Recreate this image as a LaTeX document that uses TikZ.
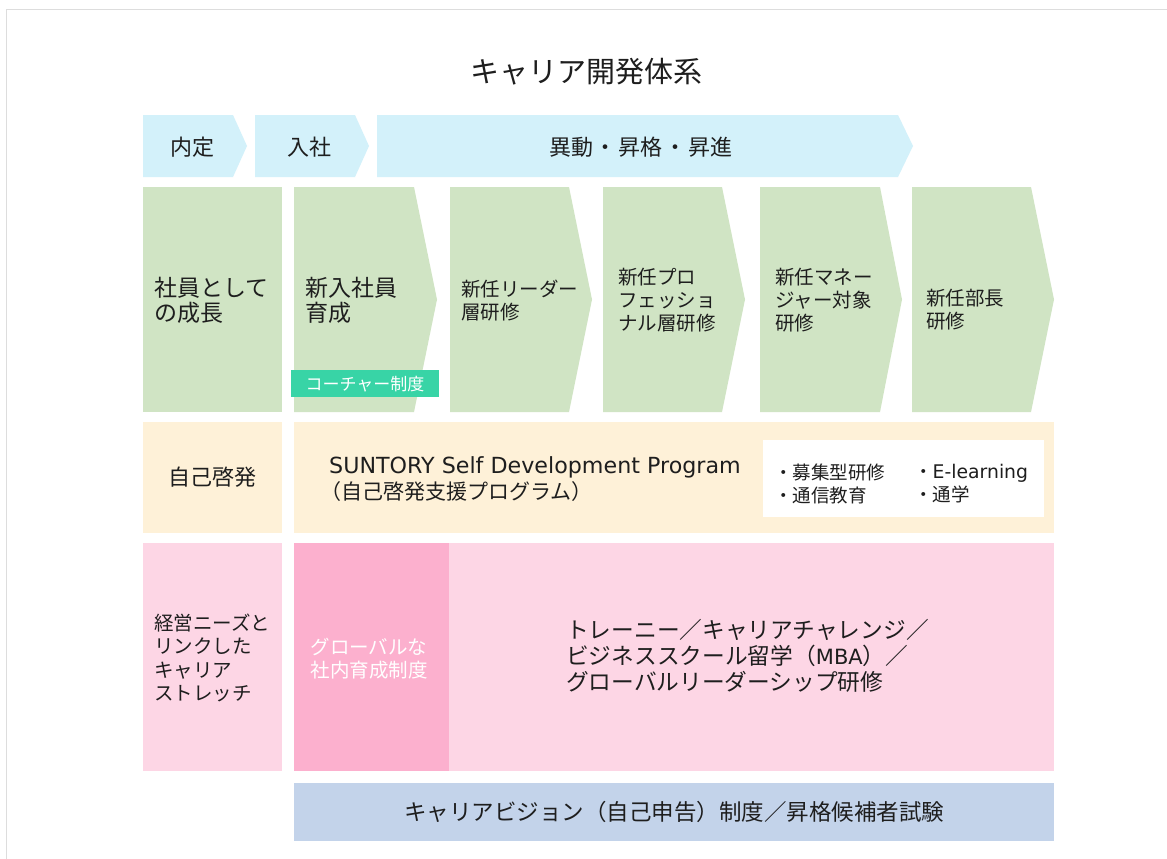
\documentclass[tikz,border=0pt]{standalone}
\usepackage{fontspec}
\setmainfont{Noto Sans CJK JP}
\newfontfamily\latinf{DejaVu Sans}
\definecolor{framegray}{HTML}{DDDDDD}
\definecolor{topblue}{HTML}{D3F1FA}
\definecolor{stepgreen}{HTML}{D0E4C4}
\definecolor{cream}{HTML}{FEF1D8}
\definecolor{pinklight}{HTML}{FDD6E5}
\definecolor{pinkdark}{HTML}{FCB0CE}
\definecolor{barblue}{HTML}{C3D3EA}
\definecolor{teal}{HTML}{38D4A6}
\definecolor{ink}{HTML}{1E1E1E}
\begin{document}
\begin{tikzpicture}[x=1pt,y=-1pt,
  txt/.style={inner sep=0pt, text=ink, align=left},
  fs/.style 2 args={font=\fontsize{#1}{#2}\selectfont}]
\useasboundingbox (0,0) rectangle (1167,859);
\fill[white] (0,0) rectangle (1167,859);
% frame
\draw[framegray, line width=1.5pt] (6.5,859) -- (6.5,9.5) -- (1167,9.5);

% title
\node[txt, fs={29}{32}] (title) at (586,72) {キャリア開発体系};

% top arrows
\fill[topblue] (143,115) -- (233,115) -- (247,146) -- (233,177) -- (143,177) -- cycle;
\fill[topblue] (255,115) -- (355,115) -- (369,146) -- (355,177) -- (255,177) -- cycle;
\fill[topblue] (377,115) -- (898,115) -- (913,146) -- (898,177) -- (377,177) -- cycle;
\node[txt, fs={22}{25}] (naitei) at (192,147) {内定};
\node[txt, fs={22}{25}] (nyusha) at (309,147) {入社};
\node[txt, fs={22}{25}] (idou) at (641,147) {異動\hspace{2pt}・\hspace{2pt}昇格\hspace{2pt}・\hspace{2pt}昇進};

% green row
\fill[stepgreen] (143,187) rectangle (282,412);
\fill[stepgreen] (294,187) -- (414,187) -- (437,299.5) -- (414,412) -- (294,412) -- cycle;
\fill[stepgreen] (450,187) -- (569,187) -- (592,299.5) -- (569,412) -- (450,412) -- cycle;
\fill[stepgreen] (603,187) -- (722,187) -- (745,299.5) -- (722,412) -- (603,412) -- cycle;
\fill[stepgreen] (760,187) -- (880,187) -- (902,299.5) -- (880,412) -- (760,412) -- cycle;
\fill[stepgreen] (912,187) -- (1031,187) -- (1054,299.5) -- (1031,412) -- (912,412) -- cycle;

\node[txt, fs={23}{25}, anchor=west] (shain) at (154,300.5) {社員として\\の成長};
\node[txt, fs={23}{25}, anchor=west] (shinnyu) at (305,300.5) {新入社員\\育成};
\node[txt, fs={19.5}{23}, anchor=west] (leader) at (461,300.5) {新任リーダー\\層研修};
\node[txt, fs={19.5}{23}, anchor=west] (pro) at (618,300) {新任プロ\\フェッショ\\ナル層研修};
\node[txt, fs={19.5}{23}, anchor=west] (manager) at (775,300) {新任マネー\\ジャー対象\\研修};
\node[txt, fs={19.5}{23}, anchor=west] (bucho) at (926,310) {新任部長\\研修};

\fill[teal] (291,370) rectangle (439,397);
\node[txt, fs={17}{20}, text=white] (coach) at (365,384) {コーチャー制度};

% self development row
\fill[cream] (143,422) rectangle (282,533);
\fill[cream] (294,422) rectangle (1054,533);
\fill[white] (763,440) rectangle (1044,517);
\node[txt, fs={22}{25}] (jiko) at (212.5,477.5) {自己啓発};
\node[txt, fs={21}{26}, anchor=west] (sdp) at (329,479) {{\latinf\fontsize{22.2}{26}\selectfont SUNTORY Self Development Program}\\\hspace{-9pt}（自己啓発支援プログラム）};
\node[txt, fs={18.5}{23}, anchor=west] (bul1) at (774,483.5) {・募集型研修\\・通信教育};
\node[txt, fs={18.5}{23}, anchor=west] (bul2) at (914,483.5) {・{\latinf\fontsize{18.8}{23}\selectfont E-learning}\\・通学};

% pink row
\fill[pinklight] (143,543) rectangle (282,771);
\fill[pinkdark] (294,543) rectangle (449,771);
\fill[pinklight] (449,543) rectangle (1054,771);
\node[txt, fs={19.5}{23.5}, anchor=west] (keiei) at (154,658) {経営ニーズと\\リンクした\\キャリア\\ストレッチ};
\node[txt, fs={19.5}{23}, text=white] (global) at (369,658.5) {グローバルな\\社内育成制度};
\node[txt, fs={22.7}{26}, anchor=west] (trainee) at (566,656) {トレーニー／キャリアチャレンジ／\\ビジネススクール留学（{\latinf\fontsize{21}{26}\selectfont MBA}）／\\グローバルリーダーシップ研修};

% bottom bar
\fill[barblue] (294,783) rectangle (1054,841);
\node[txt, fs={22.5}{25}] (vision) at (674,812) {キャリアビジョン（自己申告）制度／昇格候補者試験};
\end{tikzpicture}
\end{document}
